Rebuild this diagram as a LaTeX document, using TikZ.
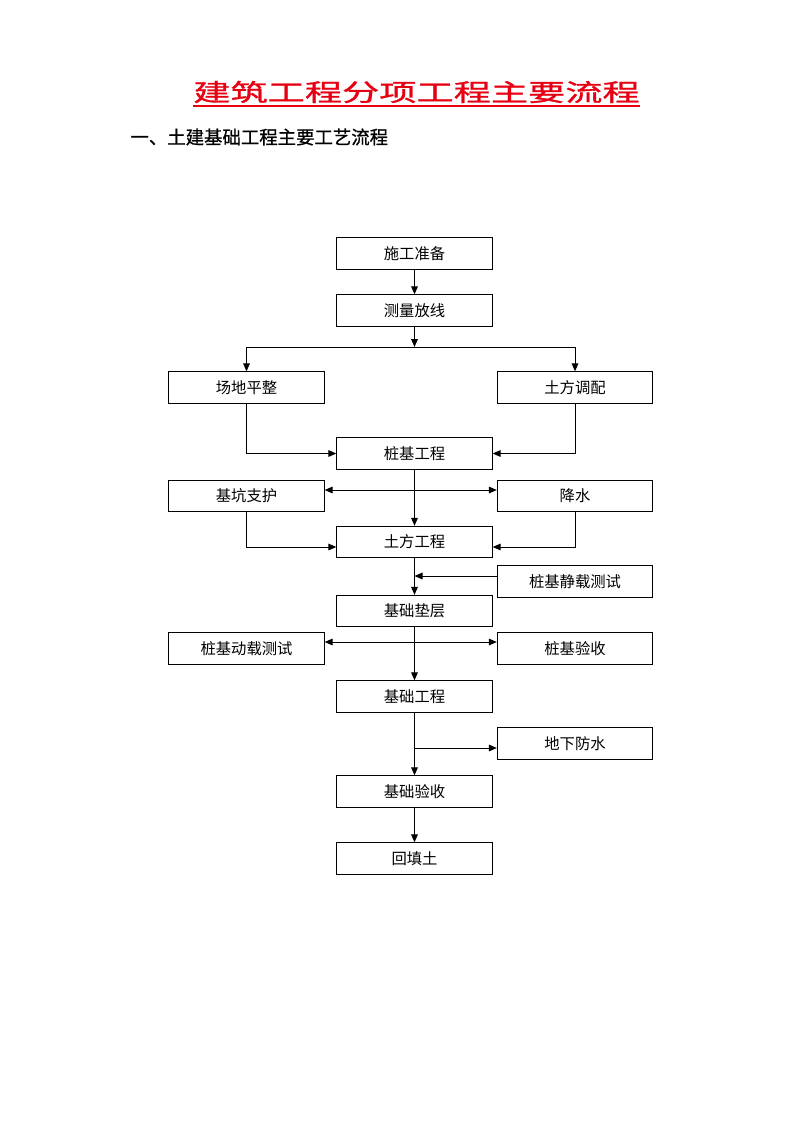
\documentclass[tikz,border=0pt]{standalone}
\usepackage{fontspec}
\usetikzlibrary{arrows.meta}
\newfontfamily\cjk{Noto Sans CJK SC}
\newfontfamily\headcjk[FakeBold=0.8]{Noto Sans CJK SC}
\newfontfamily\titlecjk[FakeStretch=1.55,FakeBold=1.2]{Noto Sans CJK SC}
\definecolor{titlered}{RGB}{230,0,18}

\begin{document}
\begin{tikzpicture}[x=0.75pt,y=-0.75pt,>={Triangle[length=6pt,width=5pt]},
    line width=0.75pt,
    box/.style={draw=black,line width=0.75pt,rectangle,minimum width=116.5pt,minimum height=23.5pt,inner sep=0pt,font=\cjk\fontsize{11.5pt}{12pt}\selectfont}]
            \useasboundingbox (0,0) rectangle (794,1122);

            % headings
            \node[text=titlered,inner sep=0pt,font=\titlecjk\fontsize{18pt}{20pt}\selectfont] (title) at (416.5,92) {建筑工程分项工程主要流程};
            \draw[titlered,line width=1.1pt] (193,106) -- (640,106);
            \node[anchor=west,inner sep=0pt,font=\headcjk\fontsize{13.8pt}{15pt}\selectfont] (sub) at (130,137) {一、土建基础工程主要工艺流程};

            % main column
            \node[box] (zhunbei) at (414.5,253.5) {施工准备};
            \node[box] (celiang) at (414.5,310.5) {测量放线};
            \node[box] (zhuangji) at (414.5,453.5) {桩基工程};
            \node[box] (tufanggc) at (414.5,542) {土方工程};
            \node[box] (dianceng) at (414.5,611) {基础垫层};
            \node[box] (jichu) at (414.5,696.5) {基础工程};
            \node[box] (yanshou) at (414.5,791.5) {基础验收};
            \node[box] (huitian) at (414.5,858.5) {回填土};

            % side boxes
            \node[box] (pingzheng) at (246.5,387.5) {场地平整};
            \node[box] (tiaopei) at (575,387.5) {土方调配};
            \node[box] (zhihu) at (246.5,496) {基坑支护};
            \node[box] (jiangshui) at (575,496) {降水};
            \node[box] (jingzai) at (575,581.5) {桩基静载测试};
            \node[box] (dongzai) at (246.5,648.5) {桩基动载测试};
            \node[box] (zjyanshou) at (575,648.5) {桩基验收};
            \node[box] (fangshui) at (575,743.5) {地下防水};

            \coordinate (split) at (414.5,347);
            \coordinate (m1) at (414.5,490);
            \coordinate (m2) at (414.5,576);
            \coordinate (m3) at (414.5,642);
            \coordinate (m4) at (414.5,748);

            \path [->] (zhunbei) edge (celiang);
            \path [->] (celiang) edge (split);
            \draw (split -| pingzheng) -- (split -| tiaopei);
            \path [->] (split -| pingzheng) edge (pingzheng);
            \path [->] (split -| tiaopei) edge (tiaopei);

            \draw [->] (pingzheng) |- (zhuangji);
            \draw [->] (tiaopei) |- (zhuangji);
            \path [->] (zhuangji) edge (tufanggc);
            \path [<->] (m1 -| zhihu.east) edge (m1 -| jiangshui.west);

            \draw [->] (zhihu) |- ([yshift=-3.75pt]tufanggc.west);
            \draw [->] (jiangshui) |- ([yshift=-3.75pt]tufanggc.east);
            \path [->] (tufanggc) edge (dianceng);
            \path [->] (m2 -| jingzai.west) edge (m2);

            \path [->] (dianceng) edge (jichu);
            \path [<->] (m3 -| dongzai.east) edge (m3 -| zjyanshou.west);

            \path [->] (jichu) edge (yanshou);
            \path [->] (m4) edge (m4 -| fangshui.west);
            \path [->] (yanshou) edge (huitian);
        \end{tikzpicture}
\end{document}
